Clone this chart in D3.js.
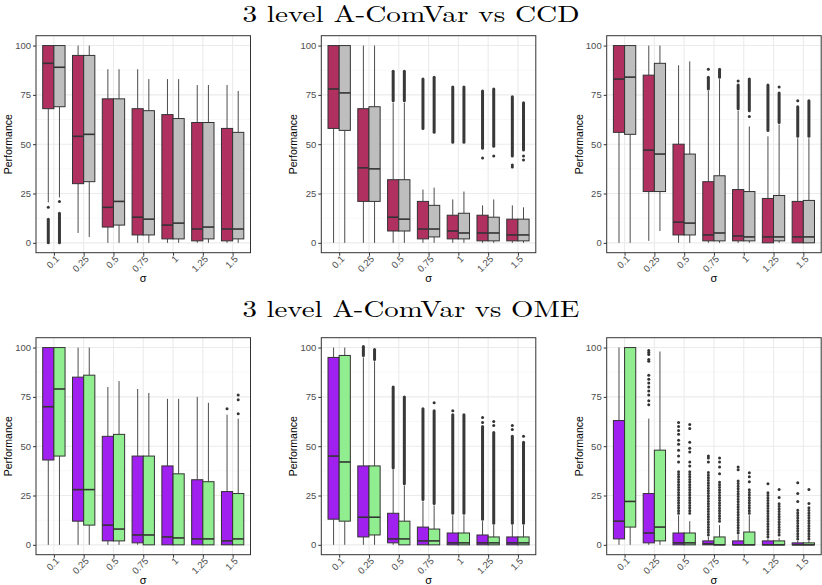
<!DOCTYPE html>
<html>
<head>
<meta charset="utf-8">
<script src="https://cdn.jsdelivr.net/npm/d3@7"></script>
<style>
  html, body { margin: 0; padding: 0; background: #fff; }
  svg { display: block; }
</style>
</head>
<body>
<svg id="chart" width="822" height="585"></svg>
<script>
// ---------------- DATA ----------------
const sigmaLevels = ["0.1", "0.25", "0.5", "0.75", "1", "1.25", "1.5"];
const yTickValues = [0, 25, 50, 75, 100];
const yMinorValues = [12.5, 37.5, 62.5, 87.5];
const rowTitles = ["3 level A-ComVar vs CCD", "3 level A-ComVar vs OME"];
const yAxisTitle = "Performance";
const xAxisTitle = "σ";

// box stats per sigma level: [whiskerLow, q1, median, q3, whiskerHigh]
// --- row 1 : A-ComVar vs CCD ---
const acvCcdA = [[20.5,68,91,100,100],[5,30,54,95,100],[0,8,18,73,88],[0,4,13,68,88],[0,2,9,65,83],[0,1,7,61,80],[0,1,7,58,80]];
const ccdA    = [[23,69,89,100,100],[3,31,55,95,100],[0,9,21,73,88],[0,4,12,67,83],[0,2,10,63,83],[0,2,8,61,80],[0,2,7,56,77]];
const acvCcdB = [[0,58,78,100,100],[0,21,38,68,100],[0,6,13,32,71],[0,2,7,21,27],[0,2,6,14,22],[0,1,5,14,19],[0,1,4,12,19]];
const ccdB    = [[0,57,76,100,100],[0,21,37.5,69,100],[0,6,12,32,71],[0,3,7,19,28],[0,2,5,15,26],[0,1,5,13,22],[0,1,4,12,18]];
const acvCcdC = [[0,56,83,100,100],[1,26,47,85,100],[0,4,10.5,50,90],[0,1,4,31,77],[0,1,3.5,27,67],[0,0,3,22.5,54],[0,0,3,21,53]];
const ccdC    = [[0,55,84,100,100],[6,26,45,91,100],[0,4,10,45,92],[0,1,5,34,83],[0,1,3,26,59],[0,1,3,24,60],[0,0,3,21.5,53]];
// --- row 2 : A-ComVar vs OME ---
const acvOmeA = [[0,43,70,100,100],[0,12,28,85,100],[0,2,10,55,80],[0,1,5,45,79],[0,0,4,40,74],[0,0,3,33,75],[0,0,2,27,66]];
const omeA    = [[0,45,79,100,100],[0,10,28,86,100],[0,2,8,56,83],[0,0,5,45,77],[0,0,3.5,36,74],[0,0,3,32,72],[0,0,3,26,64]];
const acvOmeB = [[0,13,45,95,100],[0,4,14,40,95],[0,1,3,16,38],[0,0,2,9,22],[0,0,1,6,15],[0,0,1,5,12],[0,0,1,4,10]];
const omeB    = [[0,12,42,96,100],[0,5,14,40,93],[0,0,3,12,30],[0,0,2,8,20],[0,0,1,6,15],[0,0,1,4,10],[0,0,1,4,10]];
const acvOmeC = [[0,3,12,63,100],[0,1,6,26,64],[0,0,1,6,15],[0,0,0.5,2,4],[0,0,0,2,5],[0,0,0,2,3],[0,0,0,1,2]];
const omeC    = [[0,9,22,100,100],[0,2,9,48,98],[0,0,1,6,12],[0,0,0,4,10],[0,0,0,6.5,15],[0,0,0,2,3.5],[0,0,0,1,2]];

// isolated outliers: [sigmaIndex, value]
const acvCcdAOut = [[0,18]];
const ccdAOut    = [[0,21]];
const acvCcdBOut = [[5,43],[6,38.5],[6,39.5]];
const ccdBOut    = [[5,44],[6,42],[6,44]];
const acvCcdCOut = [[3,88],[4,82],[6,72]];
const ccdCOut    = [[4,64],[5,79]];
const acvOmeAOut = [[6,69]];
const omeAOut    = [[6,66.5],[6,73.5],[6,76]];
const acvOmeBOut = [[4,68],[5,62],[5,64.5],[6,58.5],[6,60.5]];
const omeBOut    = [[3,72],[5,60.5],[5,62.5],[6,55]];
const acvOmeCOut = [[1,71],[1,73],[1,76],[1,78],[1,80],[1,82],[1,84],[1,86],[1,93],[1,94],[1,96.5],[1,97.5],[1,98.5],
                    [2,42],[2,45],[2,48],[2,51],[2,53],[2,56],[2,58],[2,60],[2,62],[3,42],[3,44],[3,45],[4,38],[4,39.5],
                    [5,31],[6,22],[6,26],[6,31.5]];
const omeCOut    = [[2,40],[2,42],[2,47],[2,49],[2,52],[2,59],[2,61],[3,36],[3,39.5],[3,42],[3,44],[4,32],[4,34.5],[4,36.5],
                    [5,24],[5,28],[6,21],[6,28]];

// dense outlier runs: [sigmaIndex, low, high]
const acvCcdABand = [[0,0,12]];
const ccdABand    = [[0,0,15]];
const acvCcdBBand = [[2,72,87],[3,58,83],[4,51,79],[5,48,77],[6,44,74]];
const ccdBBand    = [[2,72,87],[3,56,84],[4,51,79],[5,49,78],[6,47,71]];
const acvCcdCBand = [[3,78,84],[4,68,80],[5,57,80],[6,54,69]];
const ccdCBand    = [[3,84,88],[4,67,83],[5,61,76],[6,54,72]];
const acvOmeABand = [];
const omeABand    = [];
const acvOmeBBand = [[1,96,100.5],[2,39,80],[3,23,69],[4,16,66],[5,13,60],[6,11,55]];
const omeBBand    = [[1,94,99],[2,31,75],[3,21,68],[4,16,66],[5,11,57],[6,11,52]];
const acvOmeCBand = [[2,16,38],[3,5,37],[4,6,33],[5,4,27],[6,3,18]];
const omeCBand    = [[2,16,38],[3,12,33],[4,16,28],[5,5,21],[6,3,19]];

// ---------------- LAYOUT ----------------
const svg = d3.select("#chart");
const colLeft = [36, 321.3, 606.7];
const panelW = 214.5;
const rowTop = [35.7, 337.7];
const panelH = 217;
const colorsRow = [["#B03060", "#BEBEBE"], ["#A020F0", "#90EE90"]];
const dark = "#333333";
const whiskerCol = "#4D4D4D";

const panels = [
  {row:0, col:0, a:acvCcdA, b:ccdA, ao:acvCcdAOut, bo:ccdAOut, ab:acvCcdABand, bb:ccdABand, dotted:false},
  {row:0, col:1, a:acvCcdB, b:ccdB, ao:acvCcdBOut, bo:ccdBOut, ab:acvCcdBBand, bb:ccdBBand, dotted:false},
  {row:0, col:2, a:acvCcdC, b:ccdC, ao:acvCcdCOut, bo:ccdCOut, ab:acvCcdCBand, bb:ccdCBand, dotted:false},
  {row:1, col:0, a:acvOmeA, b:omeA, ao:acvOmeAOut, bo:omeAOut, ab:acvOmeABand, bb:omeABand, dotted:false},
  {row:1, col:1, a:acvOmeB, b:omeB, ao:acvOmeBOut, bo:omeBOut, ab:acvOmeBBand, bb:omeBBand, dotted:false},
  {row:1, col:2, a:acvOmeC, b:omeC, ao:acvOmeCOut, bo:omeCOut, ab:acvOmeCBand, bb:omeCBand, dotted:true}
];

// row titles
const titleY = [21.7, 317];
rowTitles.forEach((t, i) => {
  svg.append("text")
    .attr("x", 411).attr("y", titleY[i])
    .attr("text-anchor", "middle")
    .attr("font-family", "'Latin Modern Roman', 'Liberation Serif', 'DejaVu Serif', serif")
    .attr("font-size", 23.5)
    .attr("textLength", 337)
    .attr("lengthAdjust", "spacingAndGlyphs")
    .attr("fill", "#000")
    .text(t);
});

panels.forEach(p => {
  const x0 = colLeft[p.col], y0 = rowTop[p.row];
  const g = svg.append("g");
  const x = d3.scalePoint().domain(sigmaLevels).range([x0, x0 + panelW]).padding(0.6);
  const y = d3.scaleLinear().domain([-5, 105]).range([y0 + panelH, y0]);
  const step = x.step();
  const boxW = step * 0.375;
  const offs = [-boxW / 2, boxW / 2];
  const fills = colorsRow[p.row];

  // panel background
  g.append("rect").attr("x", x0).attr("y", y0).attr("width", panelW).attr("height", panelH).attr("fill", "#fff");

  // grid
  g.selectAll(null).data(yMinorValues).enter().append("line")
    .attr("x1", x0).attr("x2", x0 + panelW)
    .attr("y1", d => y(d)).attr("y2", d => y(d))
    .attr("stroke", "#F2F2F2").attr("stroke-width", 0.6);
  g.selectAll(null).data(yTickValues).enter().append("line")
    .attr("x1", x0).attr("x2", x0 + panelW)
    .attr("y1", d => y(d)).attr("y2", d => y(d))
    .attr("stroke", "#EBEBEB").attr("stroke-width", 1.1);
  g.selectAll(null).data(sigmaLevels).enter().append("line")
    .attr("x1", d => x(d)).attr("x2", d => x(d))
    .attr("y1", y0).attr("y2", y0 + panelH)
    .attr("stroke", "#EBEBEB").attr("stroke-width", 1.1);

  [p.a, p.b].forEach((stats, si) => {
    const outs = si === 0 ? p.ao : p.bo;
    const bands = si === 0 ? p.ab : p.bb;
    const sg = g.append("g");
    const cx = i => x(sigmaLevels[i]) + offs[si];

    // whiskers
    sg.selectAll(null).data(stats).enter().append("line")
      .attr("x1", (d, i) => cx(i)).attr("x2", (d, i) => cx(i))
      .attr("y1", d => y(d[0])).attr("y2", d => y(d[1]))
      .attr("stroke", whiskerCol).attr("stroke-width", 1);
    sg.selectAll(null).data(stats).enter().append("line")
      .attr("x1", (d, i) => cx(i)).attr("x2", (d, i) => cx(i))
      .attr("y1", d => y(d[3])).attr("y2", d => y(d[4]))
      .attr("stroke", whiskerCol).attr("stroke-width", 1);

    // outlier runs
    sg.selectAll(null).data(bands).enter().append("line")
      .attr("x1", d => cx(d[0])).attr("x2", d => cx(d[0]))
      .attr("y1", d => y(d[1])).attr("y2", d => y(d[2]))
      .attr("stroke", "#383838").attr("stroke-width", 3)
      .attr("stroke-linecap", "round")
      .attr("stroke-dasharray", p.dotted ? "0 2.6" : null);

    // isolated outliers
    sg.selectAll(null).data(outs).enter().append("circle")
      .attr("cx", d => cx(d[0])).attr("cy", d => y(d[1]))
      .attr("r", 1.5).attr("fill", dark);

    // boxes
    sg.selectAll(null).data(stats).enter().append("rect")
      .attr("x", (d, i) => cx(i) - boxW / 2)
      .attr("width", boxW)
      .attr("y", d => y(d[3]))
      .attr("height", d => Math.max(0.5, y(d[1]) - y(d[3])))
      .attr("fill", fills[si]).attr("stroke", dark).attr("stroke-width", 1);

    // medians
    sg.selectAll(null).data(stats).enter().append("line")
      .attr("x1", (d, i) => cx(i) - boxW / 2).attr("x2", (d, i) => cx(i) + boxW / 2)
      .attr("y1", d => y(d[2])).attr("y2", d => y(d[2]))
      .attr("stroke", dark).attr("stroke-width", 1.6);
  });

  // border
  g.append("rect").attr("x", x0).attr("y", y0).attr("width", panelW).attr("height", panelH)
    .attr("fill", "none").attr("stroke", dark).attr("stroke-width", 1);

  // y axis
  const yAxis = d3.axisLeft(y).tickValues(yTickValues).tickSize(3).tickPadding(2);
  const ya = g.append("g").attr("transform", `translate(${x0},0)`).call(yAxis);
  ya.select(".domain").remove();
  ya.selectAll(".tick line").attr("stroke", dark);
  ya.selectAll(".tick text").attr("fill", "#4D4D4D").attr("font-size", 9.5)
    .attr("font-family", "'Liberation Sans', Arial, sans-serif");

  // x axis
  const xAxis = d3.axisBottom(x).tickSize(3).tickPadding(2);
  const xa = g.append("g").attr("transform", `translate(0,${y0 + panelH})`).call(xAxis);
  xa.select(".domain").remove();
  xa.selectAll(".tick line").attr("stroke", dark);
  xa.selectAll(".tick text")
    .attr("fill", "#4D4D4D").attr("font-size", 9.5)
    .attr("font-family", "'Liberation Sans', Arial, sans-serif")
    .attr("text-anchor", "end")
    .attr("x", 0).attr("y", 0)
    .attr("dy", "0.35em")
    .attr("transform", "translate(3,4.5) rotate(-45)");

  // axis titles
  g.append("text")
    .attr("transform", `translate(${x0 - 24},${y0 + panelH / 2}) rotate(-90)`)
    .attr("text-anchor", "middle")
    .attr("font-family", "'Liberation Sans', Arial, sans-serif")
    .attr("font-size", 10.5).attr("fill", "#000")
    .text(yAxisTitle);
  g.append("text")
    .attr("x", x0 + panelW / 2).attr("y", y0 + panelH + 29.5)
    .attr("text-anchor", "middle")
    .attr("font-family", "'Liberation Sans', Arial, sans-serif")
    .attr("font-size", 11).attr("fill", "#000")
    .text(xAxisTitle);
});
</script>
</body>
</html>
